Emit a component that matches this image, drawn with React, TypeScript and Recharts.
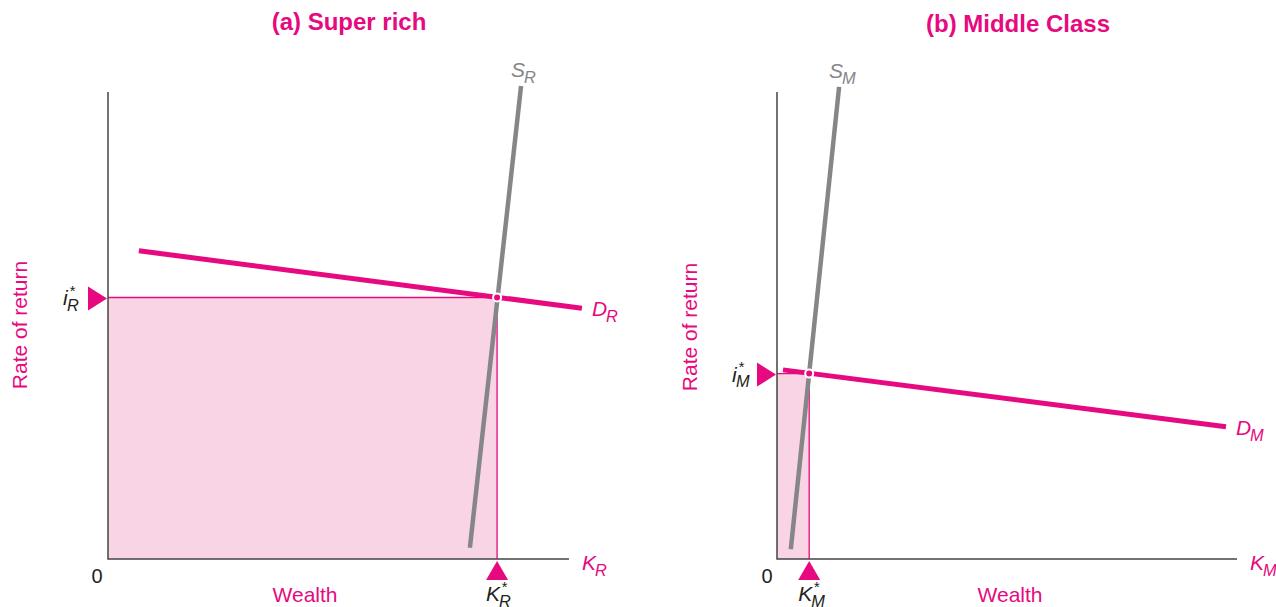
import React from 'react';
import { ComposedChart, Line, XAxis, YAxis, ReferenceArea, ReferenceDot } from 'recharts';

// ---- data (abstract units: axes run 0..100) ----
const axisFrame = [{ x: 0, y: 100 }, { x: 0, y: 0 }, { x: 100, y: 0 }];

const supplyRich = [{ x: 78.5, y: 2.4 }, { x: 89.6, y: 101.3 }];
const demandRich = [{ x: 6.7, y: 66.0 }, { x: 102.8, y: 53.7 }];
const eqRich = { x: 84.4, y: 56.0 };

const supplyMid = [{ x: 3.0, y: 2.1 }, { x: 13.5, y: 101.1 }];
const demandMid = [{ x: 1.3, y: 40.5 }, { x: 97.6, y: 28.3 }];
const eqMid = { x: 7.0, y: 39.7 };

const titles = ['(a) Super rich', '(b) Middle Class'];
const yTitle = 'Rate of return';
const xTitle = 'Wealth';
const originLabel = '0';

const MAGENTA = '#e6097f';
const GRAY = '#868688';
const FILL = '#f8d4e5';
const AXIS = '#444444';
const DARK = '#231f20';
const FONT = '"Liberation Sans", Arial, Helvetica, sans-serif';

type SymProps = { x: number; y: number; main: string; sub: string; star?: boolean; color: string; size?: number; mainW: number };
const Sym = ({ x, y, main, sub, star, color, size = 21, mainW }: SymProps) => (
  <g fontFamily={FONT} fill={color} fontStyle="italic">
    <text x={x} y={y} fontSize={size}>{main}</text>
    {star && <text x={x + mainW + 1} y={y - size * 0.45} fontSize={size * 0.72}>*</text>}
    <text x={x + mainW - 1} y={y + size * 0.28} fontSize={size * 0.78}>{sub}</text>
  </g>
);

const triRight = (props: any) => {
  const { cx, cy } = props;
  return <polygon points={`${cx - 20},${cy - 11} ${cx - 1},${cy + 1} ${cx - 20},${cy + 13}`} fill={MAGENTA} />;
};
const triUp = (props: any) => {
  const { cx, cy } = props;
  return <polygon points={`${cx - 11},${cy + 21} ${cx},${cy + 2} ${cx + 11},${cy + 21}`} fill={MAGENTA} />;
};

const labelShape = (main: string, sub: string, color: string, dx: number, dy: number, mainW: number, star = false) =>
  (props: any) => <Sym x={props.cx + dx} y={props.cy + dy} main={main} sub={sub} color={color} mainW={mainW} star={star} />;

type PanelProps = {
  supply: { x: number; y: number }[];
  demand: { x: number; y: number }[];
  eq: { x: number; y: number };
  sub: string;
  width: number;
  margin: { top: number; right: number; bottom: number; left: number };
};

const Panel = ({ supply, demand, eq, sub, width, margin }: PanelProps) => {
  const sTop = supply[supply.length - 1];
  const dEnd = demand[demand.length - 1];
  const shadeEdge = [{ x: 0, y: eq.y }, { x: eq.x, y: eq.y }, { x: eq.x, y: 0 }];
  return (
    <ComposedChart width={width} height={607} margin={margin}>
      <XAxis type="number" dataKey="x" domain={[0, 105]} hide />
      <YAxis type="number" dataKey="y" domain={[0, 105]} hide />
      <ReferenceArea x1={0} x2={eq.x} y1={0} y2={eq.y} fill={FILL} fillOpacity={1} stroke="none" />
      <Line data={shadeEdge} dataKey="y" stroke={MAGENTA} strokeWidth={1.3} dot={false} activeDot={false} isAnimationActive={false} type="linear" />
      <Line data={axisFrame} dataKey="y" stroke={AXIS} strokeWidth={1.5} dot={false} activeDot={false} isAnimationActive={false} type="linear" />
      <Line data={supply} dataKey="y" stroke={GRAY} strokeWidth={4.5} dot={false} activeDot={false} isAnimationActive={false} type="linear" />
      <Line data={demand} dataKey="y" stroke={MAGENTA} strokeWidth={5} dot={false} activeDot={false} isAnimationActive={false} type="linear" />
      <ReferenceDot x={eq.x} y={eq.y} r={4} fill={MAGENTA} stroke="#ffffff" strokeWidth={2} />
      <ReferenceDot x={0} y={eq.y} shape={triRight} />
      <ReferenceDot x={eq.x} y={0} shape={triUp} />
      <ReferenceDot x={sTop.x} y={sTop.y} shape={labelShape('S', sub, GRAY, -10, -9, 14)} />
      <ReferenceDot x={dEnd.x} y={dEnd.y} shape={labelShape('D', sub, MAGENTA, 10, 8, 15)} />
      <ReferenceDot x={100} y={0} shape={labelShape('K', sub, MAGENTA, 13, 11, 14)} />
      <ReferenceDot x={0} y={eq.y} shape={labelShape('i', sub, DARK, -45, 8, 5, true)} />
      <ReferenceDot x={eq.x} y={0} shape={labelShape('K', sub, DARK, -11, 42, 14, true)} />
    </ComposedChart>
  );
};

const abs = (style: React.CSSProperties): React.CSSProperties => ({ position: 'absolute', fontFamily: FONT, color: MAGENTA, whiteSpace: 'nowrap', ...style });

export default function App() {
  return (
    <div style={{ position: 'absolute', left: 0, top: 0, width: 1276, height: 607, background: '#ffffff', overflow: 'hidden' }}>
      <div style={{ position: 'absolute', left: 0, top: 0 }}>
        <Panel supply={supplyRich} demand={demandRich} eq={eqRich} sub="R" width={640}
          margin={{ top: 68.65, right: 47.95, bottom: 48, left: 108 }} />
      </div>
      <div style={{ position: 'absolute', left: 640, top: 0 }}>
        <Panel supply={supplyMid} demand={demandMid} eq={eqMid} sub="M" width={636}
          margin={{ top: 68.65, right: 16, bottom: 48, left: 137 }} />
      </div>
      <div style={abs({ left: 349, top: 8, transform: 'translateX(-50%)', fontSize: 24, fontWeight: 'bold' })}>{titles[0]}</div>
      <div style={abs({ left: 1018, top: 10, transform: 'translateX(-50%)', fontSize: 24, fontWeight: 'bold' })}>{titles[1]}</div>
      <div style={abs({ left: 20, top: 325, transform: 'translate(-50%, -50%) rotate(-90deg)', fontSize: 21 })}>{yTitle}</div>
      <div style={abs({ left: 690, top: 327, transform: 'translate(-50%, -50%) rotate(-90deg)', fontSize: 21 })}>{yTitle}</div>
      <div style={abs({ left: 305, top: 595, transform: 'translate(-50%, -50%)', fontSize: 21 })}>{xTitle}</div>
      <div style={abs({ left: 1010, top: 595, transform: 'translate(-50%, -50%)', fontSize: 21 })}>{xTitle}</div>
      <div style={abs({ left: 97, top: 576, transform: 'translate(-50%, -50%)', fontSize: 20, color: DARK })}>{originLabel}</div>
      <div style={abs({ left: 767, top: 576, transform: 'translate(-50%, -50%)', fontSize: 20, color: DARK })}>{originLabel}</div>
    </div>
  );
}
